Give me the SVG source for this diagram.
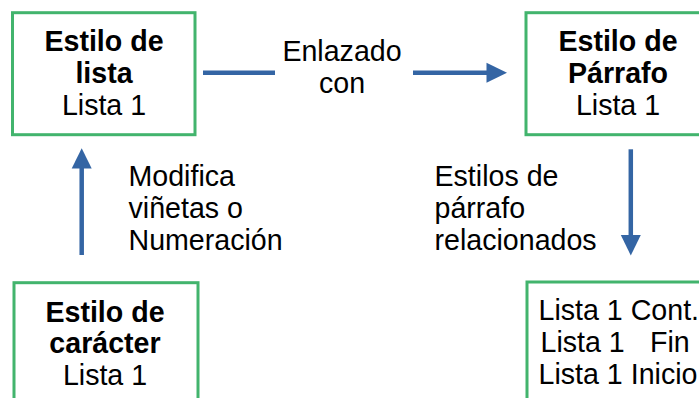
<svg xmlns="http://www.w3.org/2000/svg" width="699" height="398" viewBox="0 0 699 398">
<style>
.box{fill:#fff;stroke:#42b46d;stroke-width:3}
.t{font-family:"Liberation Sans",Arial,sans-serif;font-size:28.6px;fill:#000}
.b{font-weight:bold}
.c{text-anchor:middle}
.ln{stroke:#3465a4;stroke-width:4.5;fill:none}
.hd{fill:#3465a4}
</style>
<rect width="699" height="398" fill="#fff"/>
<g id="connectors">
<line class="ln" x1="203" y1="72.7" x2="275" y2="72.7"/>
<line class="ln" x1="413" y1="72.7" x2="488" y2="72.7"/>
<polygon class="hd" points="486.5,62.7 507,72.7 486.5,82.7"/>
<line class="ln" x1="81.7" y1="255" x2="81.7" y2="166"/>
<polygon class="hd" points="71.7,168.5 81.7,148.3 91.7,168.5"/>
<line class="ln" x1="630.8" y1="149.3" x2="630.8" y2="237"/>
<polygon class="hd" points="620.8,235 630.8,255.5 640.8,235"/>
<text class="t c" x="342" y="61">Enlazado</text>
<text class="t c" x="342" y="93">con</text>
<text class="t" x="128.5" y="186">Modifica</text>
<text class="t" x="128.5" y="218">viñetas o</text>
<text class="t" x="128.5" y="250">Numeración</text>
<text class="t" x="434.5" y="186">Estilos de</text>
<text class="t" x="434.5" y="218">párrafo</text>
<text class="t" x="434.5" y="250">relacionados</text>
</g>
<g id="lista">
<rect class="box" x="12.5" y="12.7" width="182.5" height="122"/>
<text class="t b c" x="104" y="51">Estilo de</text>
<text class="t b c" x="104" y="83">lista</text>
<text class="t c" x="104" y="115">Lista 1</text>
</g>
<g id="parrafo">
<rect class="box" x="526" y="12.7" width="184" height="122"/>
<text class="t b c" x="618" y="51">Estilo de</text>
<text class="t b c" x="618" y="83">Párrafo</text>
<text class="t c" x="618" y="115">Lista 1</text>
</g>
<g id="caracter">
<rect class="box" x="14" y="282.7" width="184" height="130"/>
<text class="t b c" x="105" y="322">Estilo de</text>
<text class="t b c" x="105" y="353">carácter</text>
<text class="t c" x="105" y="385">Lista 1</text>
</g>
<g id="relacionados">
<rect class="box" x="527" y="282" width="184" height="130"/>
<text class="t" x="538.5" y="320">Lista 1 Cont.</text>
<text class="t"><tspan x="540.5" y="352">Lista 1</tspan><tspan x="650" y="352">Fin</tspan></text>
<text class="t" x="538.5" y="383.5">Lista 1 Inicio</text>
</g>
</svg>
